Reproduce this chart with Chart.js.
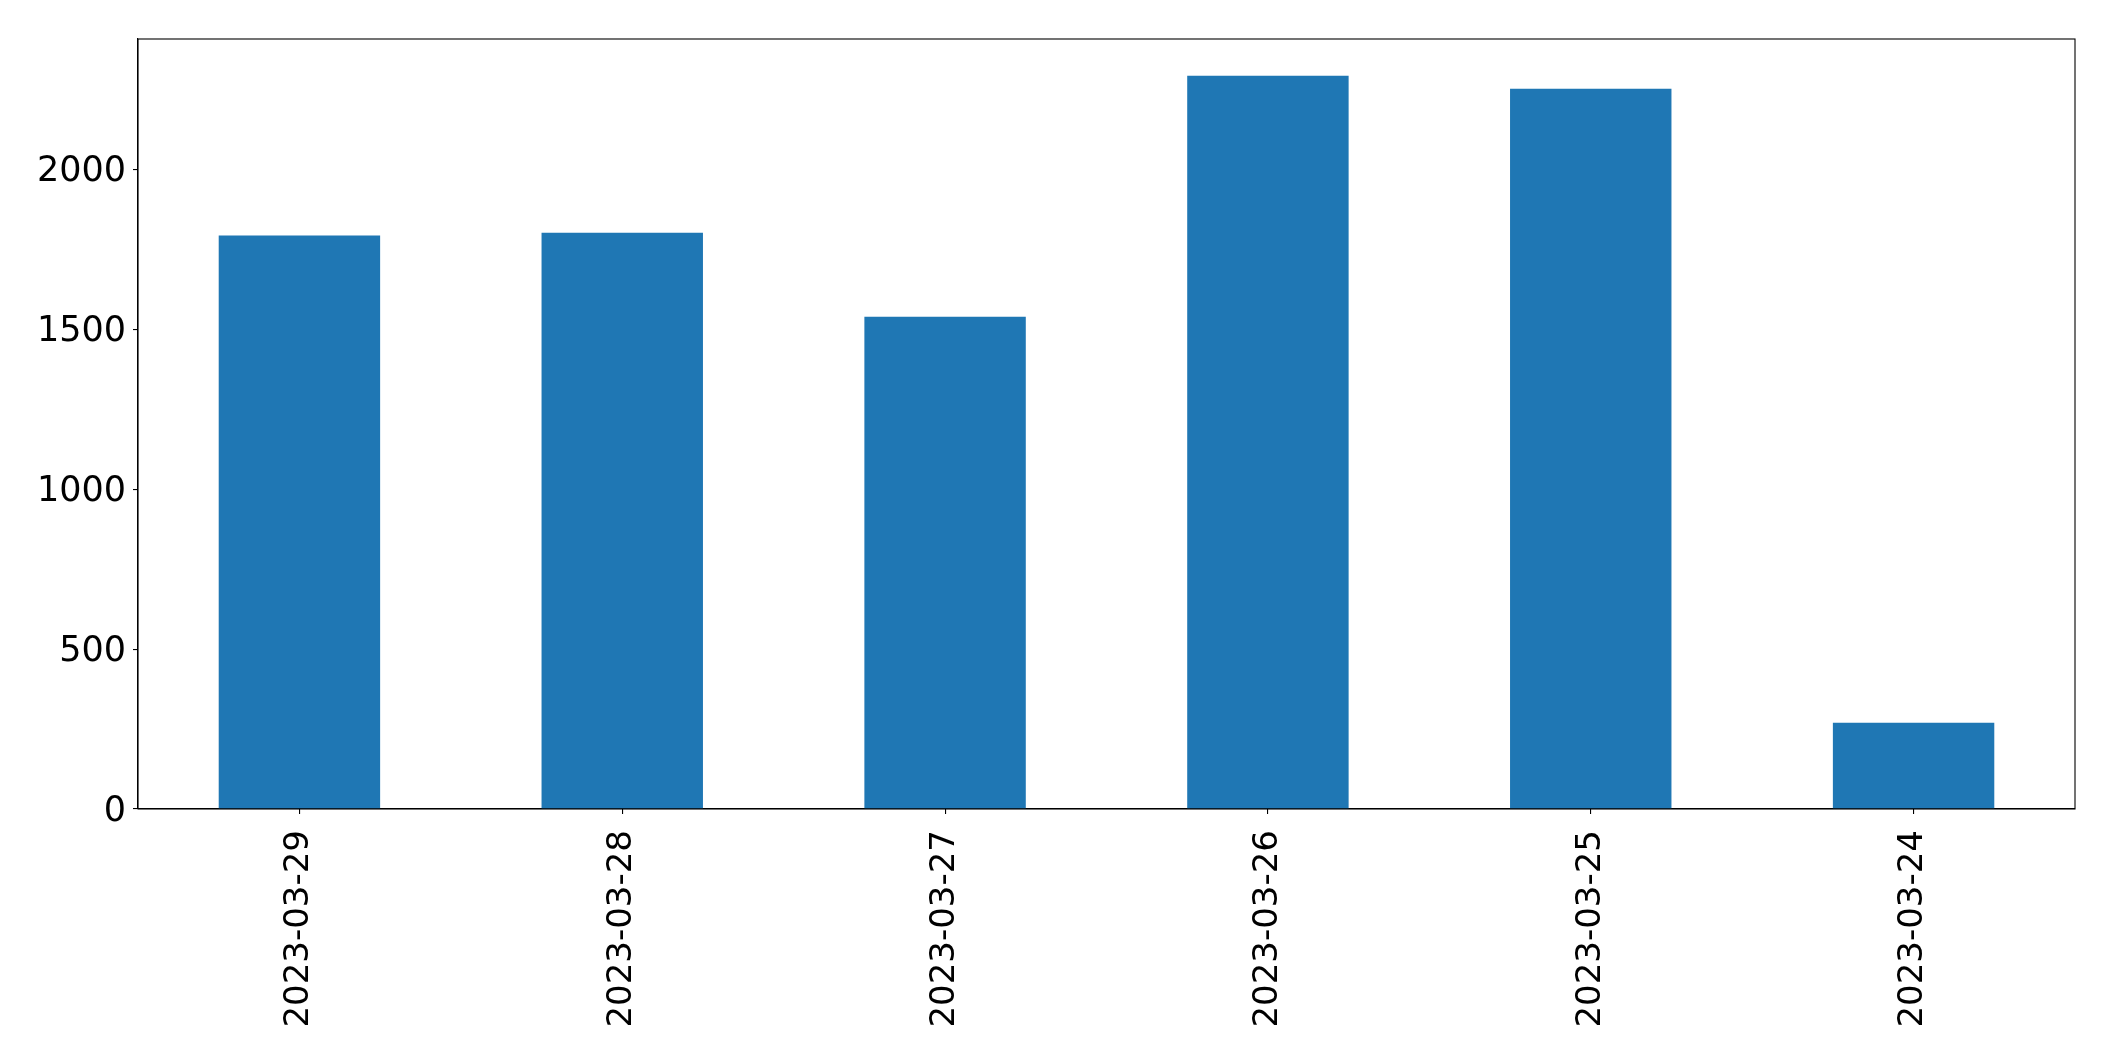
<!DOCTYPE html>
<html>
<head>
<meta charset="utf-8">
<script src="https://cdn.jsdelivr.net/npm/chart.js@4.4.0/dist/chart.umd.min.js"></script>
<style>
  html, body { margin: 0; padding: 0; background: #fff; }
  #wrap { width: 2115px; height: 1061px; }
</style>
</head>
<body>
<div id="wrap"><canvas id="bar-chart" width="2115" height="1061"></canvas></div>
<script>
const dates = ["2023-03-29", "2023-03-28", "2023-03-27", "2023-03-26", "2023-03-25", "2023-03-24"];
const counts = [1793, 1802, 1539, 2293, 2252, 270];
const yTicks = [0, 500, 1000, 1500, 2000];
const yMax = 2407.7;

// box around the plot area, like the matplotlib frame
const frame = {
  id: "frame",
  afterDraw(chart) {
    const a = chart.chartArea, ctx = chart.ctx;
    ctx.save();
    ctx.strokeStyle = "#000";
    ctx.lineWidth = 1.1;
    ctx.strokeRect(a.left, a.top, a.right - a.left, a.bottom - a.top);
    ctx.restore();
  }
};

Chart.defaults.font.family = "'DejaVu Sans', sans-serif";
Chart.defaults.color = "#000";

new Chart(document.getElementById("bar-chart"), {
  type: "bar",
  data: {
    labels: dates,
    datasets: [{
      data: counts,
      backgroundColor: "#1f77b4",
      borderWidth: 0,
      barPercentage: 0.5,
      categoryPercentage: 1.0
    }]
  },
  options: {
    responsive: false,
    animation: false,
    layout: { padding: { left: 0, top: 39, right: 40, bottom: 0 } },
    plugins: { legend: { display: false }, tooltip: { enabled: false } },
    scales: {
      x: {
        offset: true,
        grid: { display: true, offset: false, drawOnChartArea: false, tickLength: 5, color: "#000", lineWidth: 1.1 },
        border: { display: true, color: "#000", width: 1.1 },
        ticks: { maxRotation: 90, minRotation: 90, padding: 16, font: { size: 34 }, color: "#000" },
        afterFit(scale) { scale.height = 252; }
      },
      y: {
        min: 0,
        max: yMax,
        grid: { display: true, drawOnChartArea: false, tickLength: 5, color: "#000", lineWidth: 1.1 },
        border: { display: true, color: "#000", width: 1.1 },
        ticks: { padding: 7, labelOffset: 3, font: { size: 35 }, color: "#000", callback: v => String(v) },
        afterBuildTicks(scale) { scale.ticks = yTicks.map(v => ({ value: v })); },
        afterFit(scale) { scale.width = 138; }
      }
    }
  },
  plugins: [frame]
});
</script>
</body>
</html>
